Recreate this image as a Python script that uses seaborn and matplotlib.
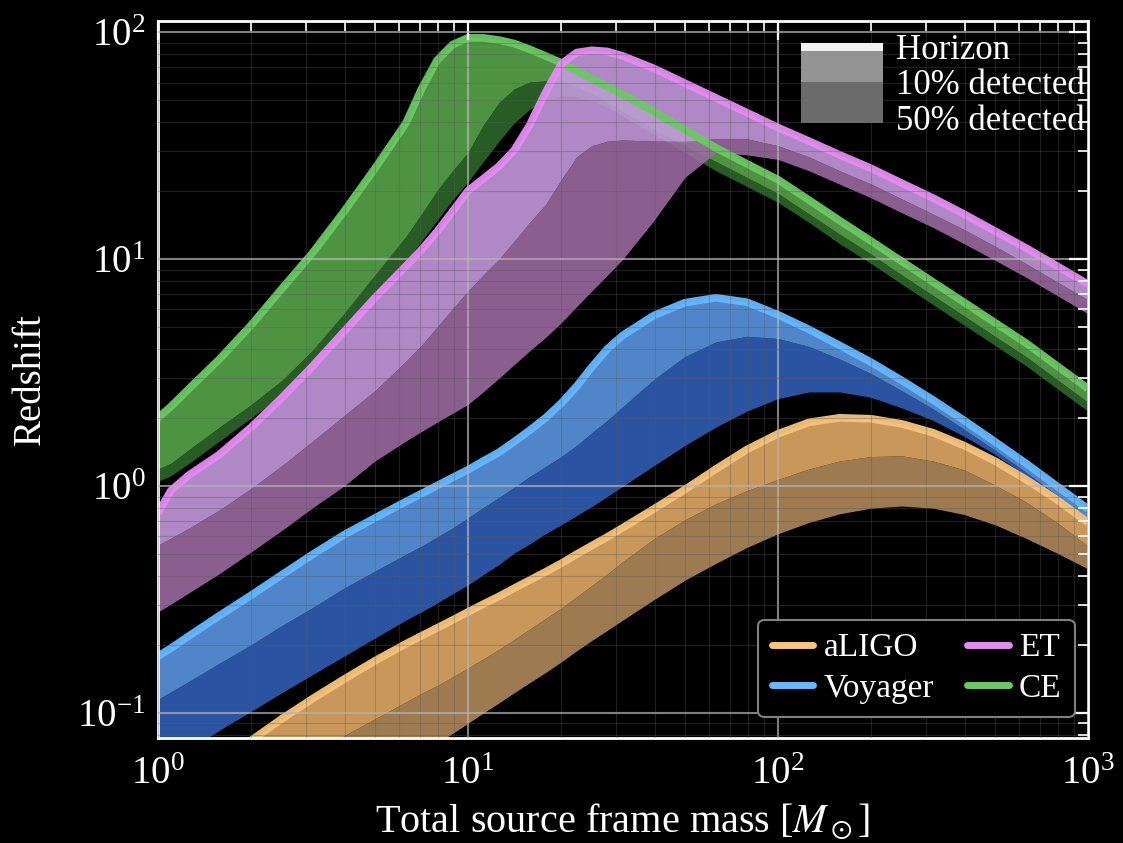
import matplotlib
matplotlib.use("Agg")
import matplotlib.pyplot as plt
import seaborn as sns
from matplotlib.patches import Patch, Rectangle
from matplotlib.lines import Line2D
from matplotlib.legend_handler import HandlerBase

# total source frame mass (solar masses), shared by every curve
mass = [1.0, 1.1, 1.26, 1.58, 2.0, 2.51, 3.16, 3.98, 5.01, 6.31,
        7.08, 7.94, 8.91, 10.0, 11.2, 12.6, 14.1, 15.8, 17.8, 20.0,
        22.4, 25.1, 28.2, 31.6, 39.8, 50.1, 63.1, 79.4, 100, 126,
        158, 200, 251, 316, 398, 501, 631, 794, 1000]

# redshift: horizon, 10% detected, 50% detected
aligo_horizon = [0.0380, 0.0417, 0.0479, 0.0603, 0.0759, 0.0944, 0.116, 0.141, 0.170, 0.202,
                 0.219, 0.237, 0.257, 0.279, 0.302, 0.327, 0.355, 0.385, 0.419, 0.457,
                 0.501, 0.547, 0.598, 0.656, 0.794, 0.966, 1.19, 1.45, 1.70, 1.91,
                 2.0, 1.98, 1.88, 1.72, 1.51, 1.29, 1.07, 0.871, 0.692]
aligo_10 = [0.0263, 0.0282, 0.0316, 0.0380, 0.0457, 0.0550, 0.0661, 0.0794, 0.0944, 0.112,
            0.122, 0.132, 0.144, 0.158, 0.173, 0.191, 0.211, 0.234, 0.261, 0.290,
            0.325, 0.365, 0.411, 0.465, 0.586, 0.711, 0.836, 0.955, 1.07, 1.19,
            1.29, 1.35, 1.36, 1.29, 1.18, 1.01, 0.851, 0.692, 0.543]
aligo_50 = [0.0115, 0.0126, 0.0141, 0.0174, 0.0214, 0.0263, 0.0324, 0.0398, 0.0490, 0.0596,
            0.0661, 0.0733, 0.0813, 0.0902, 0.100, 0.111, 0.123, 0.136, 0.151, 0.168,
            0.188, 0.209, 0.232, 0.257, 0.316, 0.385, 0.457, 0.537, 0.617, 0.692,
            0.755, 0.800, 0.817, 0.800, 0.750, 0.676, 0.589, 0.507, 0.432]

voy_horizon = [0.178, 0.193, 0.219, 0.269, 0.331, 0.407, 0.501, 0.610, 0.724, 0.855,
               0.927, 1.005, 1.09, 1.18, 1.29, 1.41, 1.57, 1.76, 2.0, 2.32,
               2.75, 3.35, 4.03, 4.62, 5.65, 6.43, 6.76, 6.46, 5.69, 4.90,
               4.17, 3.51, 2.92, 2.40, 1.95, 1.57, 1.26, 1.0, 0.794]
voy_10 = [0.115, 0.124, 0.138, 0.166, 0.200, 0.243, 0.292, 0.355, 0.422, 0.501,
          0.543, 0.596, 0.653, 0.724, 0.804, 0.891, 0.989, 1.10, 1.22, 1.35,
          1.51, 1.72, 1.95, 2.24, 2.95, 3.72, 4.32, 4.57, 4.47, 4.12,
          3.63, 3.13, 2.63, 2.19, 1.78, 1.44, 1.15, 0.912, 0.724]
voy_50 = [0.0575, 0.0617, 0.0692, 0.0841, 0.102, 0.123, 0.148, 0.178, 0.214, 0.257,
          0.279, 0.305, 0.335, 0.367, 0.407, 0.452, 0.507, 0.556, 0.617, 0.676,
          0.741, 0.813, 0.902, 1.0, 1.23, 1.51, 1.82, 2.14, 2.43, 2.60,
          2.60, 2.46, 2.21, 1.95, 1.66, 1.38, 1.11, 0.871, 0.676]

et_horizon = [0.759, 0.955, 1.12, 1.38, 1.82, 2.45, 3.39, 4.79, 6.76, 9.33,
              11.0, 13.2, 16.2, 20.0, 22.6, 25.7, 30.2, 38.9, 54.3, 72.4,
              81.3, 83.2, 82.2, 78.5, 69.2, 59.6, 51.3, 44.2, 38.0, 33.1,
              28.8, 25.1, 21.6, 18.6, 15.8, 13.3, 11.2, 9.33, 7.76]
et_10 = [0.550, 0.589, 0.653, 0.785, 0.977, 1.23, 1.58, 2.04, 2.63, 3.55,
         4.17, 5.01, 6.03, 7.24, 8.51, 10.0, 12.0, 14.5, 17.4, 22.4,
         28.2, 31.6, 33.1, 33.5, 33.1, 33.1, 33.9, 33.9, 31.6, 28.2,
         24.5, 21.4, 18.4, 15.8, 13.5, 11.4, 9.55, 7.94, 6.61]
et_50 = [0.279, 0.302, 0.339, 0.412, 0.513, 0.638, 0.804, 1.0, 1.29, 1.58,
         1.74, 1.91, 2.09, 2.29, 2.60, 2.99, 3.43, 3.94, 4.52, 5.25,
         6.17, 7.24, 8.51, 10.0, 14.8, 22.9, 29.5, 28.8, 27.5, 24.5,
         21.4, 18.6, 16.0, 13.8, 11.7, 9.89, 8.32, 6.92, 5.75]

ce_horizon = [2.0, 2.24, 2.69, 3.63, 5.13, 7.41, 10.7, 16.2, 25.1, 39.8,
              56.2, 75.0, 88.1, 94.4, 94.4, 92.3, 89.1, 84.1, 78.5, 73.3,
              67.6, 62.4, 57.5, 53.1, 44.7, 37.2, 30.9, 26.3, 22.4, 18.2,
              14.8, 12.0, 9.77, 7.94, 6.46, 5.25, 4.27, 3.39, 2.69]
ce_10 = [1.19, 1.26, 1.45, 1.82, 2.29, 2.92, 3.98, 5.75, 8.51, 12.6,
         15.8, 20.0, 24.5, 29.5, 38.9, 49.0, 56.2, 60.3, 61.0, 60.3,
         57.5, 53.7, 49.0, 44.7, 37.2, 31.6, 26.9, 22.9, 19.5, 15.8,
         12.9, 10.5, 8.51, 6.92, 5.62, 4.57, 3.72, 2.95, 2.34]
ce_50 = [1.05, 1.11, 1.26, 1.58, 2.0, 2.51, 3.31, 4.68, 6.76, 9.77,
         12.0, 14.8, 18.2, 21.9, 26.9, 33.1, 39.8, 45.7, 50.1, 52.5,
         51.9, 50.1, 46.8, 42.7, 35.5, 29.5, 24.5, 20.9, 17.8, 14.5,
         11.7, 9.55, 7.76, 6.31, 5.13, 4.17, 3.39, 2.69, 2.14]

detectors = ["aLIGO", "Voyager", "ET", "CE"]

# line colour, horizon->10% band, 10%->50% band
colors = {
    "aLIGO": ("#f6c47e", "#e6ad66", "#b58c5c"),
    "Voyager": ("#66b8ff", "#5c9ae6", "#3060b8"),
    "ET": ("#e48cf2", "#c89ce2", "#9e6ca4"),
    "CE": ("#6cc865", "#5aa84c", "#2d6a2a"),
}

curves = {
    "aLIGO": (aligo_horizon, aligo_10, aligo_50),
    "Voyager": (voy_horizon, voy_10, voy_50),
    "ET": (et_horizon, et_10, et_50),
    "CE": (ce_horizon, ce_10, ce_50),
}

sns.set_theme(style="dark")
plt.rcParams['font.family'] = ['Liberation Serif', 'DejaVu Serif']
plt.rcParams['mathtext.fontset'] = 'stix'

fig = plt.figure(figsize=(11.23, 8.43), dpi=100, facecolor='black')
ax = fig.add_axes([0.1407, 0.1246, 0.8281, 0.8505])
ax.set_facecolor('black')
ax.set_xscale('log')
ax.set_yscale('log')

# CE underneath ET so the green line shows through the pink band
for name in ["aLIGO", "Voyager", "CE", "ET"]:
    hor, d10, d50 = curves[name]
    line_c, band1, band2 = colors[name]
    ax.fill_between(mass, d50, d10, color=band2, alpha=0.88, lw=0)
    ax.fill_between(mass, d10, hor, color=band1, alpha=0.88, lw=0)
    sns.lineplot(x=mass, y=hor, color=line_c, lw=5.5, ax=ax,
                 solid_capstyle='butt', solid_joinstyle='round', alpha=0.95)

ax.set_xlim(1, 1000)
ax.set_ylim(0.0777, 112)

ax.set_axisbelow(False)
ax.grid(which='major', color='#b4b4b4', lw=1.5, alpha=0.7)
ax.grid(which='minor', color='#5a5a5a', lw=0.8, alpha=0.35)
ax.tick_params(which='both', direction='in', top=True, right=True,
               colors='white', labelsize=28)
ax.tick_params(which='major', length=14, width=1.6, pad=9)
ax.tick_params(axis='x', which='major', pad=13)
ax.tick_params(which='minor', length=7, width=1.2)
for sp in ax.spines.values():
    sp.set_color('white')
    sp.set_linewidth(2)

ax.set_xlabel(r"Total source frame mass [$M_\odot$]", color='white', fontsize=29, labelpad=6)
ax.set_ylabel("Redshift", color='white', fontsize=28, labelpad=20)


class StackHandler(HandlerBase):
    # draws stacked grey blocks so the three rows form one schematic band
    def __init__(self, parts):
        super().__init__()
        self.parts = parts

    def create_artists(self, legend, orig_handle, xdescent, ydescent,
                       width, height, fontsize, trans):
        out = []
        for lo, hi, col in self.parts:
            out.append(Rectangle((-xdescent, -ydescent + lo * height), width,
                                 (hi - lo) * height, facecolor=col,
                                 edgecolor='none', transform=trans))
        return out


white = '#f2f2f2'
grey1 = '#939393'
grey2 = '#6b6b6b'
h_hor, h_10, h_50 = Patch(), Patch(), Patch()
hmap = {
    h_hor: StackHandler([(-0.35, 0.5, grey1), (0.38, 0.62, white)]),
    h_10: StackHandler([(0.5, 1.35, grey1), (-0.35, 0.5, grey2)]),
    h_50: StackHandler([(0.35, 1.35, grey2)]),
}
leg1 = ax.legend([h_hor, h_10, h_50], ["Horizon", "10% detected", "50% detected"],
                 handler_map=hmap, loc='upper right', bbox_to_anchor=(1.004, 0.995),
                 frameon=False, fontsize=25, labelspacing=0.0, handleheight=1.0,
                 handlelength=2.35, handletextpad=0.38, borderaxespad=0, borderpad=0.2,
                 labelcolor='white')
ax.add_artist(leg1)

det_handles = [Line2D([], [], color=colors[d][0], lw=5) for d in detectors]
leg2 = ax.legend(det_handles, detectors, ncol=2, loc='lower right',
                 bbox_to_anchor=(0.986, 0.029), borderaxespad=0, fontsize=24,
                 handlelength=1.25, handletextpad=0.3, columnspacing=1.0,
                 labelspacing=0.3, frameon=True, fancybox=True, framealpha=1,
                 facecolor='black', edgecolor='#808080', labelcolor='white')
leg2.get_frame().set_linewidth(1.5)

fig.savefig("out.png", dpi=100, facecolor='black')
